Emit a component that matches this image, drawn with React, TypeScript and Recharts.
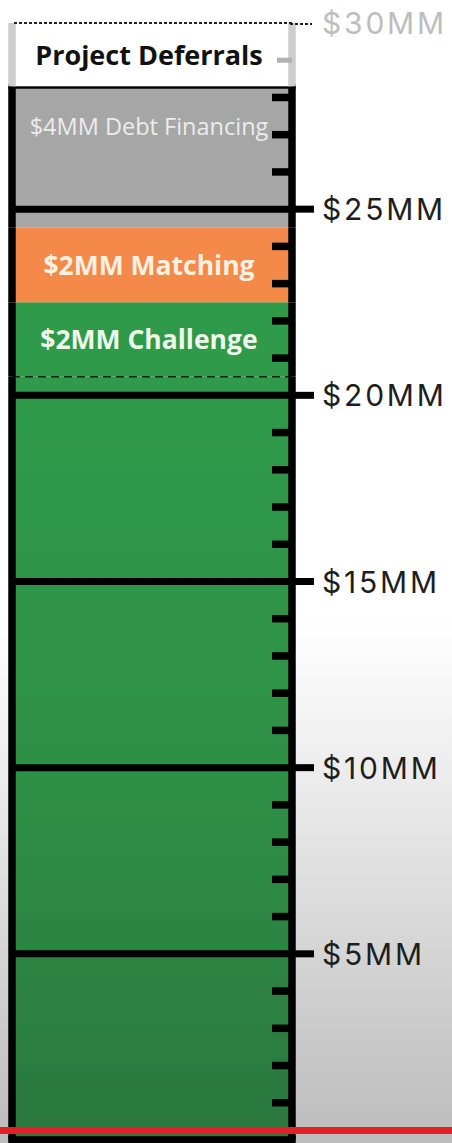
import React from 'react';
import { BarChart, Bar, XAxis, YAxis, ReferenceLine, LabelList } from 'recharts';

// ---- data ----
const categories = ['Campaign'];
const segmentKeys = ['base', 'challenge', 'matching', 'debt', 'deferrals'];
const segmentValues = [20.5, 2, 2, 3.8, 1.7];
const segmentLabels = ['', '$2MM Challenge', '$2MM Matching', '$4MM Debt Financing', 'Project Deferrals'];
const axisTicks = [1, 2, 3, 4, 5, 6, 7, 8, 9, 10, 11, 12, 13, 14, 15, 16, 17, 18, 19, 20, 21, 22, 23, 24, 25, 26, 27, 28, 29, 30];
const majorTicks = [5, 10, 15, 20, 25];
const goalTick = 30;
const tickLabels: Record<number, string> = { 5: '$5MM', 10: '$10MM', 15: '$15MM', 20: '$20MM', 25: '$25MM', 30: '$30MM' };

const chartData = categories.map((name) => {
  const row: Record<string, any> = { name };
  segmentKeys.forEach((k, i) => (row[k] = segmentValues[i]));
  return row;
});

// ---- styles ----
const fills: Record<string, string> = {
  base: 'url(#baseGreen)',
  challenge: '#2f9a4a',
  matching: '#f5894a',
  debt: '#a6a6a6',
  deferrals: '#ffffff',
};

const labelStyles: Record<string, any> = {
  challenge: { fill: '#eef8ea', fontWeight: 700, fontSize: 26.5, dy: 0 },
  matching: { fill: '#fbf1e0', fontWeight: 700, fontSize: 26.5, dy: 0 },
  debt: { fill: '#ececec', fontWeight: 400, fontSize: 23.5, dy: -31 },
  deferrals: { fill: '#111111', fontWeight: 700, fontSize: 27, dy: 0 },
};

const BORDER = 7.5;

const Segment = (props: any) => {
  const { x, y, width, height, fill, kind } = props;
  const side = kind === 'deferrals' ? '#cdcdcd' : '#000';
  return (
    <g>
      <rect x={x} y={y} width={width} height={height} fill={fill} />
      {kind === 'challenge' && (
        <line x1={x} x2={x + width} y1={y + height} y2={y + height} stroke="#0b2612" strokeWidth={1.6} strokeDasharray="8 5" />
      )}
      {kind === 'base' && (
        <line x1={x - BORDER / 2} x2={x + width + BORDER / 2} y1={y + height} y2={y + height} stroke="#000" strokeWidth={BORDER} />
      )}
      {kind === 'debt' && (
        <line x1={x - BORDER / 2} x2={x + width + BORDER / 2} y1={y} y2={y} stroke="#000" strokeWidth={5} />
      )}
      <line x1={x} x2={x} y1={y} y2={y + height} stroke={side} strokeWidth={BORDER} />
      <line x1={x + width} x2={x + width} y1={y} y2={y + height} stroke={side} strokeWidth={BORDER} />
    </g>
  );
};

const makeLabel = (kind: string, text: string) => (props: any) => {
  const { x, y, width, height } = props;
  const st = labelStyles[kind];
  if (!st || !text) return null;
  return (
    <text
      x={x + width / 2 - 3}
      y={y + height / 2 + st.dy}
      textAnchor="middle"
      dominantBaseline="central"
      fill={st.fill}
      fontWeight={st.fontWeight}
      fontSize={st.fontSize}
      fontFamily="'Open Sans', sans-serif"
    >
      {text}
    </text>
  );
};

const AxisTick = (props: any) => {
  const { x, y, payload } = props;
  const v = payload.value as number;
  const isMajor = majorTicks.includes(v);
  const isGoal = v === goalTick;
  if (isGoal) {
    return (
      <g>
        <line x1={x - 2} x2={x + 20} y1={y + 1} y2={y + 1} stroke="#222" strokeWidth={2} strokeDasharray="3 2" />
        <text x={x + 30} y={y} dominantBaseline="central" fill="#bdbdbd" fontSize={30} letterSpacing={2.8}
          fontFamily="Inter, sans-serif">{tickLabels[v]}</text>
      </g>
    );
  }
  if (isMajor) {
    return (
      <g>
        <line x1={x} x2={x + 22} y1={y} y2={y} stroke="#000" strokeWidth={7} />
        <text x={x + 30} y={y} dominantBaseline="central" fill="#1e1e1e" fontSize={30} letterSpacing={2.8}
          fontFamily="Inter, sans-serif">{tickLabels[v]}</text>
      </g>
    );
  }
  const light = v > segmentValues.slice(0, 4).reduce((a, b) => a + b, 0);
  return (
    <line x1={x - (light ? 15 : 20)} x2={x} y1={y} y2={y} stroke={light ? '#b3b3b3' : '#000'} strokeWidth={light ? 5 : 7.5} />
  );
};

export default function App() {
  return (
    <div
      style={{
        position: 'absolute',
        left: 0,
        top: 0,
        width: 452,
        height: 1143,
        overflow: 'hidden',
        background: 'linear-gradient(to bottom, #ffffff 0%, #ffffff 54%, #e9e9e9 70%, #d2d2d2 85%, #bcbcbc 100%)',
      }}
    >
      <BarChart
        width={452}
        height={1143}
        data={chartData}
        margin={{ top: 23, right: 0, bottom: 3, left: 12 }}
        barCategoryGap={0}
      >
        <defs>
          <linearGradient id="baseGreen" x1="0" y1="0" x2="0" y2="1">
            <stop offset="0%" stopColor="#2f9a4a" />
            <stop offset="55%" stopColor="#2e8f46" />
            <stop offset="100%" stopColor="#2a773e" />
          </linearGradient>
        </defs>
        <XAxis dataKey="name" hide />
        <YAxis
          orientation="right"
          width={160}
          type="number"
          domain={[0, 30]}
          ticks={axisTicks}
          interval={0}
          tickSize={0}
          tickMargin={0}
          tickLine={false}
          axisLine={false}
          tick={<AxisTick />}
        />
        {segmentKeys.map((k, i) => (
          <Bar
            key={k}
            dataKey={k}
            stackId="fund"
            fill={fills[k]}
            isAnimationActive={false}
            shape={(p: any) => <Segment {...p} kind={k} />}
          >
            <LabelList dataKey={k} content={makeLabel(k, segmentLabels[i])} />
          </Bar>
        ))}
        {majorTicks.map((t) => (
          <ReferenceLine key={t} y={t} stroke="#000" strokeWidth={7} />
        ))}
        <ReferenceLine y={goalTick} stroke="#222" strokeWidth={2} strokeDasharray="3 2" />
      </BarChart>
      <div style={{ position: 'absolute', left: 0, top: 1127, width: 452, height: 7, background: '#e51f2a' }} />
    </div>
  );
}
